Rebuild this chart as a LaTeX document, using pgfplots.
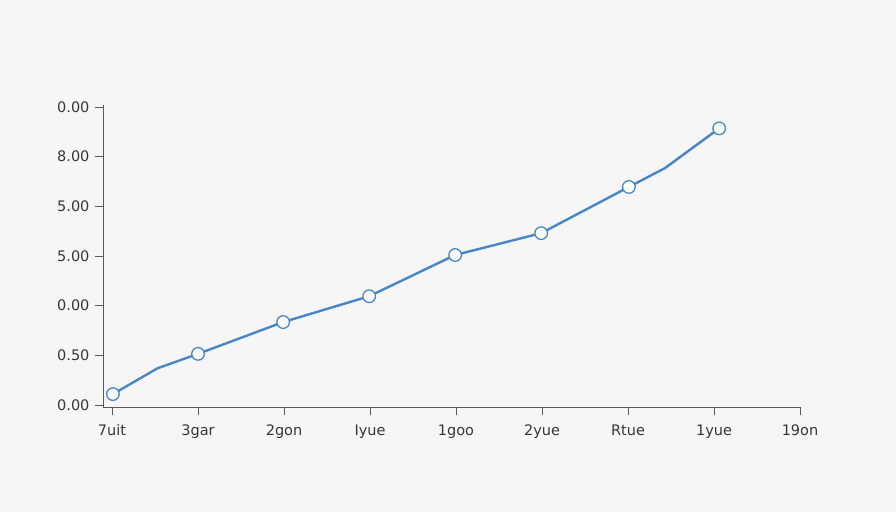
\documentclass[border=0pt]{standalone}
\usepackage{pgfplots}
\pgfplotsset{compat=1.18}
\usepackage{fontspec}
\setmainfont{DejaVu Sans}
\definecolor{bg}{RGB}{246,246,246}
\definecolor{ln}{RGB}{72,134,204}
\definecolor{ax}{RGB}{90,90,90}
\definecolor{tx}{RGB}{55,55,55}
\begin{document}
\begin{tikzpicture}
\fill[bg] (-103pt,-105pt) rectangle (793pt,407pt);
\path[use as bounding box] (-103pt,-105pt) rectangle (793pt,407pt);
\begin{axis}[
  at={(0pt,0pt)}, anchor=south west,
  scale only axis, width=697pt, height=302pt,
  xmin=-0.105, xmax=8, ymin=-0.04, ymax=6.04,
  axis x line=bottom, axis y line=left,
  axis line style={ax, line width=0.9pt, -},
  xtick={0,1,2,3,4,5,6,7,8},
  xticklabels={7uit,3gar,2gon,Iyue,1goo,2yue,Rtue,1yue,19on},
  ytick={0,1,2,3,4,5,6},
  yticklabels={0.00,0.50,0.00,5.00,5.00,8.00,0.00},
  tick style={ax, line width=0.9pt},
  major tick length=8pt,
  tick align=outside,
  xtick pos=bottom, ytick pos=left,
  ticklabel style={font=\fontsize{14.5}{16}\selectfont, text=tx},
  xticklabel style={yshift=-6pt},
  yticklabel style={xshift=-2pt},
]
\addplot[ln, line width=2.4pt, line join=round] coordinates {
 (0.01,0.22) (0.53,0.74) (1.0,1.03) (1.99,1.67) (2.99,2.19) (3.99,3.02) (4.99,3.46) (6.01,4.39) (6.43,4.77) (7.06,5.57)};
\addplot[only marks, mark=*, mark size=6.3pt, mark options={fill=white, draw=ln, line width=1.3pt}] coordinates {
 (0.01,0.22) (1.0,1.03) (1.99,1.67) (2.99,2.19) (3.99,3.02) (4.99,3.46) (6.01,4.39) (7.06,5.57)};
\end{axis}
\end{tikzpicture}
\end{document}
